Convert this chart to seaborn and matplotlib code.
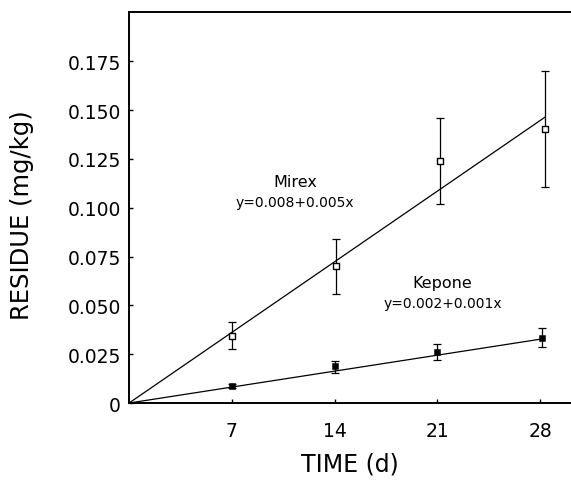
import matplotlib
matplotlib.use("Agg")
import matplotlib.pyplot as plt
import seaborn as sns
import pandas as pd

# ---- data ----
days_mirex = [7.0, 14.1, 21.2, 28.35]
mirex = [0.0345, 0.0700, 0.1240, 0.1405]
mirex_lo = [0.0277, 0.0557, 0.1018, 0.1105]
mirex_hi = [0.0416, 0.0838, 0.1460, 0.1700]

days_kepone = [7.0, 14.0, 21.0, 28.1]
kepone = [0.0085, 0.0188, 0.0260, 0.0333]
kepone_lo = [0.0075, 0.0155, 0.0222, 0.0285]
kepone_hi = [0.0095, 0.0217, 0.0302, 0.0384]

fit_x_mirex = [0.0, 28.35]
fit_mirex = [0.0, 0.1465]
fit_x_kepone = [0.0, 28.1]
fit_kepone = [0.0, 0.0328]

y_ticks = [0, 0.025, 0.050, 0.075, 0.100, 0.125, 0.150, 0.175]
y_labels = ["0", "0.025", "0.050", "0.075", "0.100", "0.125", "0.150", "0.175"]
x_ticks = [7, 14, 21, 28]
x_labels = ["7", "14", "21", "28"]

sns.set_style("ticks")
plt.rcParams['font.family'] = ['DejaVu Sans']
for k in ["text.color", "axes.labelcolor", "xtick.color", "ytick.color", "axes.edgecolor"]:
    plt.rcParams[k] = "black"

fig = plt.figure(figsize=(5.71, 4.81), dpi=100)
ax = fig.add_axes([0.226, 0.160, 0.774, 0.814])

df_fit_m = pd.DataFrame({"x": fit_x_mirex, "y": fit_mirex})
df_fit_k = pd.DataFrame({"x": fit_x_kepone, "y": fit_kepone})
sns.lineplot(data=df_fit_m, x="x", y="y", ax=ax, color="black", lw=0.9)
sns.lineplot(data=df_fit_k, x="x", y="y", ax=ax, color="black", lw=0.9)

def err(vals, lo, hi):
    return [[v - l for v, l in zip(vals, lo)], [h - v for v, h in zip(vals, hi)]]

ax.errorbar(days_mirex, mirex, yerr=err(mirex, mirex_lo, mirex_hi), fmt="none",
            ecolor="black", elinewidth=0.9, capsize=3, capthick=0.9, zorder=3)
ax.errorbar(days_kepone, kepone, yerr=err(kepone, kepone_lo, kepone_hi), fmt="none",
            ecolor="black", elinewidth=0.9, capsize=3, capthick=0.9, zorder=3)

df_m = pd.DataFrame({"x": days_mirex, "y": mirex})
df_k = pd.DataFrame({"x": days_kepone, "y": kepone})
sns.scatterplot(data=df_m, x="x", y="y", ax=ax, marker="s", s=18,
                facecolor="white", edgecolor="black", linewidth=1.0, zorder=4)
sns.scatterplot(data=df_k, x="x", y="y", ax=ax, marker="s", s=22,
                color="black", edgecolor="black", zorder=4)

ax.text(11.3, 0.1137, "Mirex", ha="center", va="center", fontsize=11.5)
ax.text(11.3, 0.1032, "y=0.008+0.005x", ha="center", va="center", fontsize=10)
ax.text(21.3, 0.0616, "Kepone", ha="center", va="center", fontsize=11.5)
ax.text(21.4, 0.0514, "y=0.002+0.001x", ha="center", va="center", fontsize=10)

ax.set_xlim(0, 30.1)
ax.set_ylim(0, 0.2005)
ax.set_xticks(x_ticks)
ax.set_xticklabels(x_labels)
ax.set_yticks(y_ticks)
ax.set_yticklabels(y_labels)
ax.tick_params(axis="x", direction="in", length=3, width=1, pad=13, labelsize=13.5)
ax.tick_params(axis="y", direction="in", length=3, width=1, pad=6, labelsize=13.5)

for side in ["left", "bottom", "top"]:
    ax.spines[side].set_linewidth(1.4)
    ax.spines[side].set_color("black")
ax.spines["right"].set_visible(False)

ax.set_xlabel("TIME (d)", fontsize=17)
ax.set_ylabel("RESIDUE (mg/kg)", fontsize=17.5)
ax.xaxis.set_label_coords(0.5, -0.125)
ax.yaxis.set_label_coords(-0.214, 0.483)

fig.savefig("out.png", dpi=100)
